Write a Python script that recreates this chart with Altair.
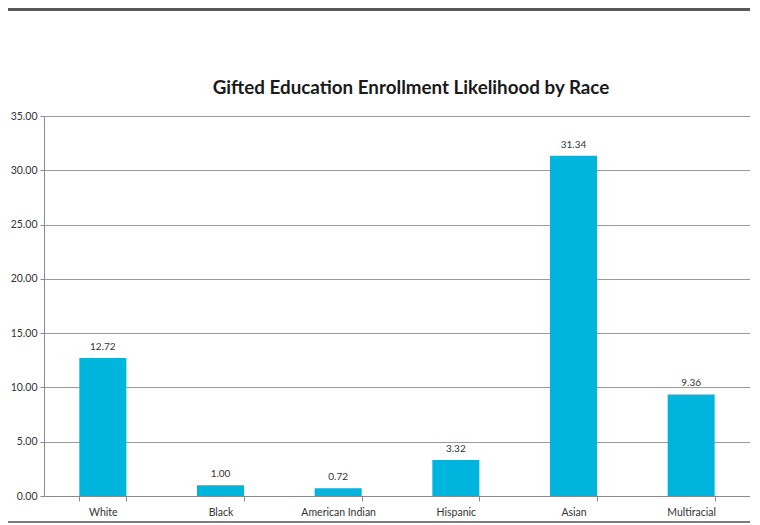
import altair as alt
import pandas as pd

races = ["White", "Black", "American Indian", "Hispanic", "Asian", "Multiracial"]
likelihood = [12.72, 1.00, 0.72, 3.32, 31.34, 9.36]
y_ticks = [0, 5, 10, 15, 20, 25, 30, 35]

df = pd.DataFrame({"race": races, "value": likelihood})
df["label"] = [f"{v:.2f}" for v in likelihood]

FONT = "Lato"
BAR = "#00b5dd"

x_enc = alt.X(
    "race:N",
    sort=races,
    title=None,
    scale=alt.Scale(paddingInner=0.6, paddingOuter=0.3),
    axis=alt.Axis(
        labelAngle=0,
        labelFont=FONT,
        labelFontSize=10.5,
        labelColor="#333333",
        labelPadding=6,
        domainColor="#8a8a8a",
        tickColor="#8a8a8a",
        tickSize=5,
        tickBand="extent",
        grid=False,
    ),
)
y_enc = alt.Y(
    "value:Q",
    title=None,
    scale=alt.Scale(domain=[0, 35], nice=False),
    axis=alt.Axis(
        values=y_ticks,
        format=".2f",
        labelFont=FONT,
        labelFontSize=10.5,
        labelColor="#333333",
        labelPadding=3,
        domainColor="#8a8a8a",
        tickColor="#8a8a8a",
        tickSize=4,
        gridColor="#9a9a9a",
        gridWidth=1,
    ),
)

bars = alt.Chart(df).mark_bar(color=BAR, size=47).encode(x=x_enc, y=y_enc)
labels = alt.Chart(df).mark_text(
    baseline="bottom", dy=-6, font=FONT, fontSize=10, color="#333333"
).encode(x=alt.X("race:N", sort=races), y="value:Q", text="label:N")

frame_top = alt.Chart(df).mark_rule(color="#595959", strokeWidth=5).encode(
    x=alt.value(-40), x2=alt.value(720), y=alt.value(-108)
)
frame_bottom = alt.Chart(df).mark_rule(color="#7a7a7a", strokeWidth=1).encode(
    x=alt.value(-40), x2=alt.value(720), y=alt.value(406)
)

chart = (
    alt.layer(bars, labels, frame_top, frame_bottom)
    .properties(
        width=706,
        height=380,
        autosize=alt.AutoSizeParams(type="none"),
        padding={"left": 36, "top": 108, "right": 0, "bottom": 29},
        title=alt.TitleParams(
            "Gifted Education Enrollment Likelihood by Race",
            font=FONT,
            fontSize=18.8,
            fontWeight="bold",
            color="#1a1a1a",
            anchor="middle",
            dx=14,
            offset=-92,
        ),
    )
    .configure_view(stroke=None)
    .configure(background="white")
)

chart.save("out.html", embed_options={"renderer": "svg", "actions": False})
